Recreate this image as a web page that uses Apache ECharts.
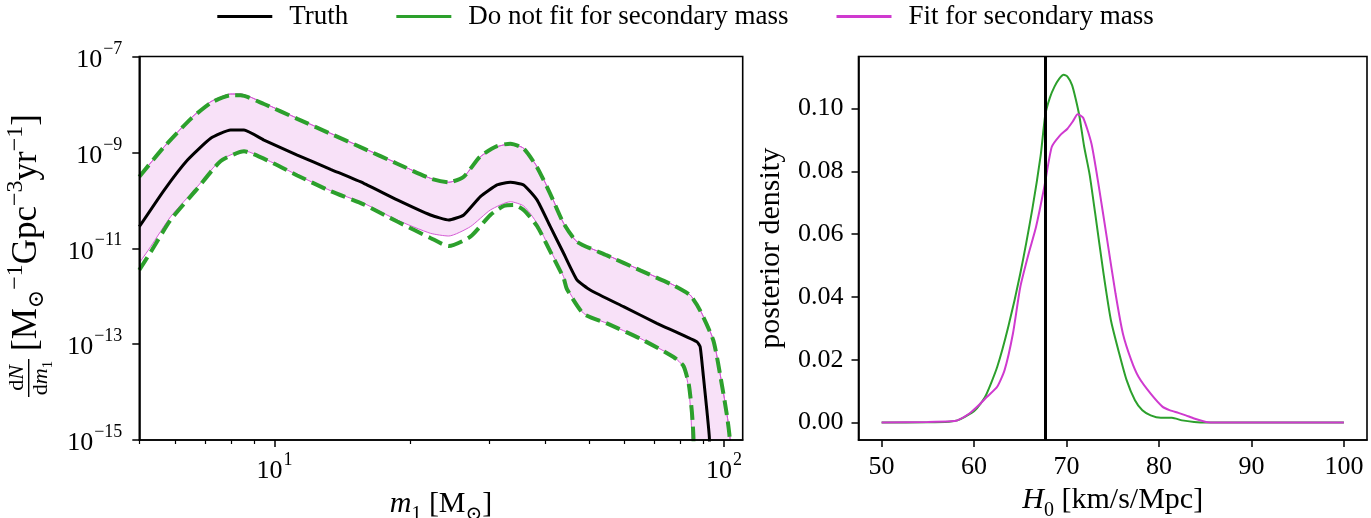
<!DOCTYPE html>
<html><head><meta charset="utf-8">
<script src="https://cdn.jsdelivr.net/npm/echarts@6/dist/echarts.min.js"></script>
<style>html,body{margin:0;padding:0;background:#fff}#c{width:1371px;height:518px}</style>
</head><body><div id="c"></div>
<script>
// ---------- data (left panel: m1 [Msun], dN/dm1) ----------
const truthCurve = [[5.0,2.82e-11],[5.68,1.64e-10],[6.40,6.93e-10],[7.21,1.97e-9],[7.98,2.93e-9],[8.55,2.93e-9],[9.47,1.81e-9],[11.23,8.81e-10],[13.32,4.44e-10],[15.79,2.26e-10],[18.74,1.02e-10],[22.22,4.94e-11],[24.40,3.88e-11],[26.35,4.94e-11],[28.69,1.19e-10],[31.25,2.09e-10],[33.46,2.38e-10],[35.81,2.09e-10],[38.35,1.02e-10],[41.06,2.82e-11],[43.95,7.85e-12],[47.07,2.18e-12],[50.37,1.35e-12],[59.74,6.04e-13],[70.87,2.72e-13],[86.97,1.12e-13],[88.46,8.85e-14],[89.95,2.09e-14],[91.54,4.23e-15],[92.75,1.09e-15],[93.5,1e-17]];
const fitUpper = [[5.0,3.11e-10],[5.68,1.31e-9],[6.51,5.14e-9],[7.21,1.14e-8],[7.98,1.65e-8],[8.40,1.65e-8],[9.47,1.06e-8],[11.23,5.14e-9],[13.32,2.50e-9],[15.79,1.22e-9],[18.74,5.92e-10],[22.22,2.88e-10],[24.40,2.38e-10],[26.35,3.11e-10],[28.69,8.13e-10],[31.25,1.31e-9],[33.46,1.50e-9],[35.81,1.22e-9],[38.35,5.03e-10],[41.06,1.40e-10],[43.95,3.32e-11],[47.07,1.37e-11],[54.87,7.23e-12],[65.07,3.52e-12],[77.16,1.71e-12],[84.04,1.06e-12],[88.46,5.15e-13],[94.67,1.22e-13],[98.83,1.52e-14],[101.4,3.61e-15],[103.1,1.09e-15],[104.0,1e-17]];
const fitLower = [[5.0,4.93e-12],[5.30,1.08e-11],[5.87,4.55e-11],[6.73,1.92e-10],[7.59,6.93e-10],[8.55,1.08e-9],[9.80,6.39e-10],[11.23,3.37e-10],[13.32,1.59e-10],[15.79,8.67e-11],[18.74,3.88e-11],[22.22,2.05e-11],[24.40,1.80e-11],[27.26,2.82e-11],[30.20,6.28e-11],[33.46,9.36e-11],[35.81,7.62e-11],[38.35,3.32e-11],[41.06,9.20e-12],[43.95,2.55e-12],[44.72,1.48e-12],[48.68,4.40e-13],[54.87,2.72e-13],[65.07,1.32e-13],[77.16,5.47e-14],[81.21,3.38e-14],[83.32,1.29e-14],[84.33,3.61e-15],[84.76,1.09e-15],[85.0,1e-17]];
const noFitUpper = [[5.0,3.11e-10],[5.68,1.31e-9],[6.51,5.0e-9],[7.21,1.08e-8],[7.98,1.55e-8],[8.40,1.55e-8],[9.47,1.02e-8],[11.23,5.0e-9],[13.32,2.45e-9],[15.79,1.2e-9],[18.74,5.8e-10],[22.22,2.85e-10],[24.40,2.38e-10],[26.35,3.11e-10],[28.69,8.3e-10],[31.25,1.35e-9],[33.46,1.52e-9],[35.81,1.2e-9],[38.35,4.9e-10],[41.06,1.35e-10],[43.95,3.3e-11],[47.07,1.37e-11],[54.87,7.1e-12],[65.07,3.45e-12],[77.16,1.68e-12],[84.04,1.04e-12],[88.46,5.0e-13],[94.67,1.18e-13],[98.83,1.45e-14],[101.4,3.4e-15],[102.9,1.09e-15],[103.8,1e-17]];
const noFitLower = [[5.0,3.52e-12],[5.30,8.35e-12],[5.87,3.9e-11],[6.73,1.75e-10],[7.59,6.6e-10],[8.55,1.05e-9],[9.80,6.3e-10],[11.23,3.3e-10],[13.32,1.55e-10],[15.79,8.2e-11],[18.74,3.6e-11],[22.22,1.64e-11],[24.40,1.11e-11],[27.26,1.74e-11],[30.20,4.94e-11],[32.33,7.62e-11],[34.03,7.98e-11],[35.81,6.28e-11],[38.35,2.91e-11],[41.06,8.5e-12],[43.95,2.4e-12],[44.72,1.4e-12],[48.68,4.3e-13],[54.87,2.7e-13],[65.07,1.3e-13],[77.16,5.4e-14],[81.21,3.5e-14],[83.5,1.4e-14],[84.8,3.8e-15],[85.48,1.09e-15],[85.8,1e-17]];

// ---------- data (right panel: H0, posterior density) ----------
const truthH0 = 67.7;
const noFitPosterior = [[50,0],[55,0.0001],[57.3,0.0003],[58.2,0.0007],[59.0,0.0018],[60.1,0.0039],[61.2,0.0082],[62.5,0.0177],[63.7,0.0305],[65.0,0.0475],[66.3,0.068],[67.2,0.085],[67.7,0.098],[68.2,0.1035],[68.7,0.107],[69.2,0.1095],[69.7,0.1108],[70.1,0.1102],[70.6,0.1075],[71.0,0.103],[71.4,0.0975],[71.9,0.088],[72.5,0.079],[73.1,0.0666],[74.0,0.0475],[74.8,0.0326],[75.7,0.0220],[76.5,0.0135],[77.4,0.0071],[78.2,0.0039],[79.1,0.0023],[80.2,0.0015],[81.4,0.0015],[82.5,0.0007],[83.8,0.0002],[85.1,0],[100,0]];
const fitPosterior = [[50,0],[55,0.0002],[57.5,0.0004],[58.2,0.0007],[59.5,0.0029],[60.5,0.0055],[61.4,0.0082],[62.5,0.0114],[63.3,0.0167],[64.2,0.0283],[65.0,0.0432],[65.9,0.0538],[66.7,0.0623],[67.6,0.0751],[68.4,0.0878],[69.3,0.0915],[70.1,0.0936],[70.7,0.096],[71.2,0.0982],[71.8,0.0971],[72.7,0.0888],[73.5,0.0751],[74.4,0.0581],[75.3,0.0411],[76.1,0.0283],[77.0,0.0199],[77.8,0.0145],[79.1,0.0092],[80.4,0.0050],[81.2,0.0039],[82.1,0.0031],[82.9,0.0023],[83.8,0.0013],[85.1,0.0002],[86.3,0],[100,0]];

// ---------- ticks ----------
const m1MajorTicks = [10, 100];
const m1MinorTicks = [5,6,7,8,9,20,30,40,50,60,70,80,90];
const rateTicks = [1e-15,1e-13,1e-11,1e-9,1e-7];
const h0Ticks = [50,60,70,80,90,100];
const densityTicks = [0,0.02,0.04,0.06,0.08,0.10];

const FONT = '"Liberation Serif", "DejaVu Serif", serif';
const GREEN = '#2ca02c', MAG = '#cf3acf', MAG_EDGE = '#d45cd4', BAND = 'rgba(207,58,207,0.22)';

const powRich = {
  b: {fontFamily: FONT, fontSize: 26, color: '#000', padding: [7,0,0,0], verticalAlign: 'bottom'},
  s: {fontFamily: FONT, fontSize: 18, color: '#000', verticalAlign: 'top', padding: [0,0,0,1]}
};
function powLabel(v){
  const e = Math.round(Math.log10(v));
  return '{b|10}{s|' + (e < 0 ? '\u2212' : '') + Math.abs(e) + '}';
}
const nameRich = {
  i: {fontFamily: FONT, fontSize: 30, fontStyle: 'italic', color: '#000', padding: [0,0,6,0], verticalAlign: 'bottom'},
  n: {fontFamily: FONT, fontSize: 30, color: '#000', padding: [0,0,6,0], verticalAlign: 'bottom'},
  sub: {fontFamily: FONT, fontSize: 20, color: '#000', verticalAlign: 'bottom'}
};

const axisLineStyle = {color: '#000', width: 1.6};
const chart = echarts.init(document.getElementById('c'), null, {renderer: 'canvas'});

function line(name, data, opts){
  return Object.assign({
    type: 'line', name, data, xAxisIndex: 0, yAxisIndex: 0,
    showSymbol: false, symbol: 'none', smooth: 0.2, clip: true, silent: true,
    animation: false
  }, opts);
}

chart.setOption({
  animation: false,
  backgroundColor: '#fff',
  legend: {
    top: -2, left: 'center', itemWidth: 55, itemHeight: 3, itemGap: 48,
    textStyle: {fontFamily: FONT, fontSize: 27, color: '#000', padding: [0,0,0,12]},
    data: [
      {name: 'Truth', icon: 'rect', itemStyle: {color: '#000'}},
      {name: 'Do not fit for secondary mass', icon: 'rect', itemStyle: {color: GREEN}},
      {name: 'Fit for secondary mass', icon: 'rect', itemStyle: {color: MAG}}
    ]
  },
  grid: [
    {left: 139.3, top: 56.5, width: 603.4, height: 383.5, show: true, borderColor: '#000', borderWidth: 1.6, z: 10,
     backgroundColor: 'transparent', containLabel: false, outerBoundsMode: 'none'},
    {left: 858.5, top: 56.5, width: 508.5, height: 383.5, show: true, borderColor: '#000', borderWidth: 1.6, z: 10,
     backgroundColor: 'transparent', containLabel: false, outerBoundsMode: 'none'}
  ],
  xAxis: [
    {type: 'log', gridIndex: 0, min: 5, max: 110, z: 10,
     name: '{i|m}{sub|1}{n| [M}{sub|\u2299}{n|]}', nameLocation: 'middle', nameGap: 44,
     nameTextStyle: {fontFamily: FONT, fontSize: 30, color: '#000', rich: nameRich},
     axisLine: {show: true, onZero: false, lineStyle: axisLineStyle},
     axisTick: {show: true, length: 7, lineStyle: {color: '#000', width: 1.5}, customValues: m1MajorTicks},
     axisLabel: {show: true, margin: 11, customValues: m1MajorTicks, formatter: powLabel, rich: powRich},
     splitLine: {show: false}},
    {type: 'log', gridIndex: 0, min: 5, max: 110, position: 'bottom', z: 10,
     axisLine: {show: false},
     axisTick: {show: true, length: 4, lineStyle: {color: '#000', width: 1.2}, customValues: m1MinorTicks},
     axisLabel: {show: false}, splitLine: {show: false}},
    {type: 'value', gridIndex: 1, min: 47.5, max: 102.5, z: 10,
     name: '{i|H}{sub|0}{n| [km/s/Mpc]}', nameLocation: 'middle', nameGap: 44,
     nameTextStyle: {fontFamily: FONT, fontSize: 30, color: '#000', rich: nameRich},
     axisLine: {show: true, onZero: false, lineStyle: axisLineStyle},
     axisTick: {show: true, length: 7, lineStyle: {color: '#000', width: 1.5}, customValues: h0Ticks},
     axisLabel: {show: true, margin: 14, customValues: h0Ticks, fontFamily: FONT, fontSize: 26, color: '#000'},
     splitLine: {show: false}}
  ],
  yAxis: [
    {type: 'log', gridIndex: 0, min: 1e-15, max: 1e-7, z: 10,
     axisLine: {show: true, onZero: false, lineStyle: axisLineStyle},
     axisTick: {show: true, length: 7, lineStyle: {color: '#000', width: 1.5}, customValues: rateTicks},
     axisLabel: {show: true, margin: 17, customValues: rateTicks, formatter: powLabel, rich: powRich},
     splitLine: {show: false}},
    {type: 'value', gridIndex: 1, min: -0.00555, max: 0.1166, z: 10,
     name: 'posterior density', nameLocation: 'middle', nameGap: 72, nameRotate: 90,
     nameTextStyle: {fontFamily: FONT, fontSize: 30, color: '#000'},
     axisLine: {show: true, onZero: false, lineStyle: axisLineStyle},
     axisTick: {show: true, length: 7, lineStyle: {color: '#000', width: 1.5}, customValues: densityTicks},
     axisLabel: {show: true, margin: 15, customValues: densityTicks, fontFamily: FONT, fontSize: 26, color: '#000',
                 formatter: v => v.toFixed(2)},
     splitLine: {show: false}}
  ],
  series: [
    line('Fit for secondary mass', fitUpper, {lineStyle: {color: MAG_EDGE, width: 1}, itemStyle: {color: MAG},
         areaStyle: {color: BAND, origin: 'start'}, z: 2}),
    line('band-mask', fitLower, {lineStyle: {width: 0, opacity: 0}, itemStyle: {color: '#fff'},
         areaStyle: {color: '#ffffff', opacity: 1, origin: 'start'}, z: 2}),
    line('Fit for secondary mass', fitLower, {lineStyle: {color: MAG_EDGE, width: 1}, itemStyle: {color: MAG}, z: 3}),
    line('Fit for secondary mass', fitUpper, {lineStyle: {color: MAG_EDGE, width: 1}, itemStyle: {color: MAG}, z: 3}),
    line('Do not fit for secondary mass', noFitUpper, {lineStyle: {color: GREEN, width: 4, type: [15, 6.5]}, itemStyle: {color: GREEN}, z: 4}),
    line('Do not fit for secondary mass', noFitLower, {lineStyle: {color: GREEN, width: 4, type: [15, 6.5]}, itemStyle: {color: GREEN}, z: 4}),
    line('Truth', truthCurve, {lineStyle: {color: '#000', width: 3}, itemStyle: {color: '#000'}, smooth: 0.15, z: 5}),
    // right panel
    line('Do not fit for secondary mass', noFitPosterior, {xAxisIndex: 2, yAxisIndex: 1, lineStyle: {color: GREEN, width: 2}, itemStyle: {color: GREEN}, z: 4}),
    line('Fit for secondary mass', fitPosterior, {xAxisIndex: 2, yAxisIndex: 1, lineStyle: {color: MAG, width: 2}, itemStyle: {color: MAG}, z: 4}),
    line('Truth', [], {xAxisIndex: 2, yAxisIndex: 1, itemStyle: {color: '#000'}, z: 5,
         markLine: {silent: true, symbol: 'none', animation: false, label: {show: false},
                    lineStyle: {color: '#000', width: 3, type: 'solid'}, data: [{xAxis: truthH0}]}})
  ],
  graphic: [{
    type: 'group', x: 48, y: 247, rotation: Math.PI / 2, silent: true,
    children: [
      {type: 'text', x: -131, y: -20, style: {text: '{r|d}{i|N}', align: 'center', verticalAlign: 'bottom',
        rich: {r: {fontFamily: FONT, fontSize: 22, fill: '#000'}, i: {fontFamily: FONT, fontSize: 22, fontStyle: 'italic', fill: '#000'}}}},
      {type: 'rect', shape: {x: -150, y: -20, width: 38, height: 1.4}, style: {fill: '#000'}},
      {type: 'text', x: -131, y: -18, style: {text: '{r|d}{i|m}{s|1}', align: 'center', verticalAlign: 'top',
        rich: {r: {fontFamily: FONT, fontSize: 22, fill: '#000', padding: [0,0,4,0], verticalAlign: 'bottom'},
               i: {fontFamily: FONT, fontSize: 22, fontStyle: 'italic', fill: '#000', padding: [0,0,4,0], verticalAlign: 'bottom'},
               s: {fontFamily: FONT, fontSize: 15, fill: '#000', verticalAlign: 'bottom'}}}},
      {type: 'text', x: -104, y: 0, style: {
        text: '{n|[M}{sub|\u2299}{sup|\u22121}{n|Gpc}{sup|\u22123}{n|yr}{sup|\u22121}{n|]}',
        align: 'left', verticalAlign: 'bottom',
        rich: {n: {fontFamily: FONT, fontSize: 35, fill: '#000', padding: [5,0,4,0], verticalAlign: 'middle'},
               sup: {fontFamily: FONT, fontSize: 24, fill: '#000', verticalAlign: 'top'},
               sub: {fontFamily: FONT, fontSize: 22, fill: '#000', verticalAlign: 'bottom'}}}}
    ]
  }]
});
</script>
</body></html>
